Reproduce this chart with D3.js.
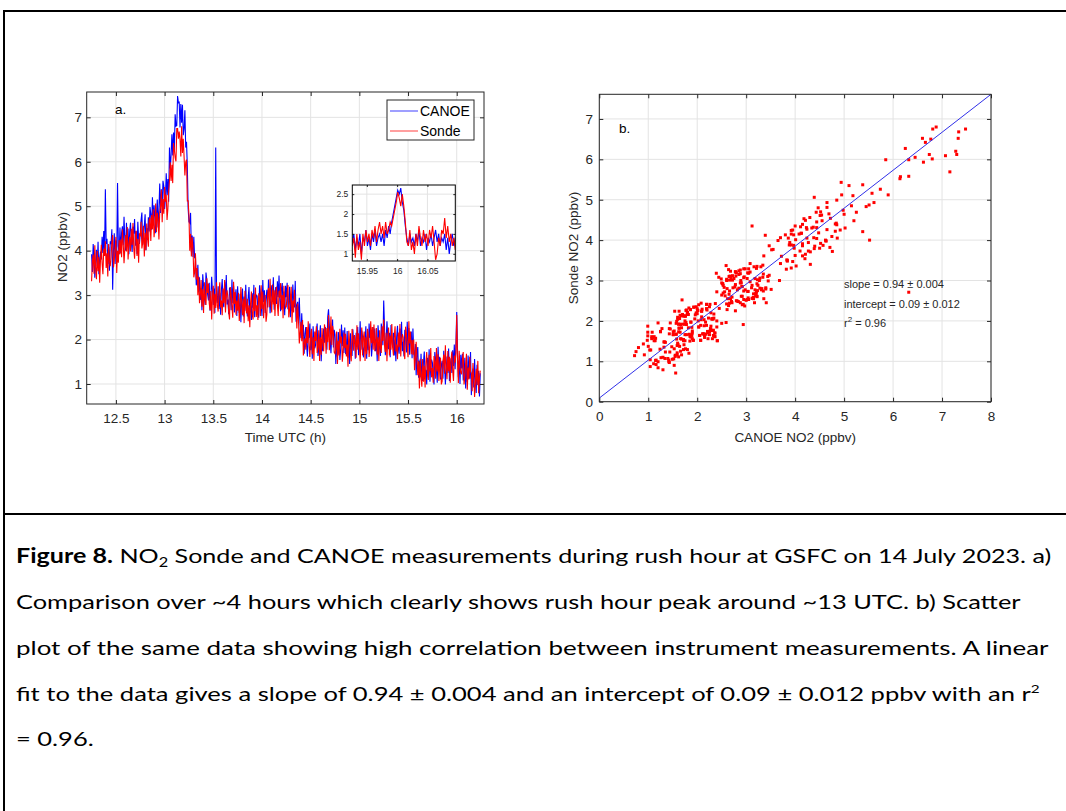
<!DOCTYPE html>
<html><head><meta charset="utf-8">
<script src="https://cdn.jsdelivr.net/npm/d3@7"></script>
<style>body{margin:0;background:#fff} svg{display:block}</style>
</head><body>
<svg id="c" width="1066" height="811"></svg>
<script>
// ---------- DATA ----------
const timeStart = 12.25, timeStep = 1/120; // hours, 30 s sampling
const canoe = [
3.92,3.52,4.15,3.84,3.39,3.72,4.02,3.65,4.20,3.47,3.82,3.98,
3.80,4.31,3.95,4.44,3.88,5.38,4.15,4.27,3.70,4.08,3.55,4.21,
4.15,4.48,3.12,4.00,4.39,3.70,4.23,3.84,5.52,4.10,3.92,4.52,
3.95,4.40,4.55,4.12,4.76,4.24,4.00,4.63,4.18,4.50,3.92,4.44,
4.63,4.21,3.97,4.54,4.38,4.71,4.11,4.44,3.92,4.65,4.27,4.15,
4.37,4.69,4.86,4.13,4.30,4.57,4.82,4.01,4.51,4.24,4.75,4.43,
4.98,4.82,4.47,5.20,4.65,5.02,4.72,4.39,4.84,5.15,4.52,4.92,
5.51,4.85,5.38,5.00,5.57,5.45,4.94,5.18,5.74,5.25,5.61,5.10,
6.32,5.85,6.15,6.62,6.14,6.66,6.25,7.07,6.80,6.81,7.48,7.33,
7.34,6.77,7.30,6.88,7.28,6.60,6.74,7.16,6.32,6.45,5.90,4.95,
4.65,4.62,4.85,3.97,4.34,3.86,4.31,3.83,3.89,3.22,3.36,3.68,
3.08,3.40,2.89,3.16,2.66,3.47,3.22,2.95,2.78,3.51,3.34,3.02,
2.88,3.28,2.65,2.96,3.41,3.08,2.78,3.15,2.60,6.32,2.98,2.82,
3.20,2.69,3.05,2.56,3.12,3.36,2.85,2.73,3.30,2.92,3.45,2.79,
2.90,2.57,3.17,3.05,2.66,3.35,2.82,3.21,2.61,2.95,3.13,2.53,
3.20,2.75,2.60,3.03,2.39,2.91,3.15,2.52,2.97,2.65,3.23,2.71,
2.52,2.94,3.18,2.61,2.77,2.44,3.04,2.71,3.23,2.50,2.88,3.00,
2.98,2.66,2.49,3.22,3.05,2.78,2.53,3.34,2.84,3.11,2.60,2.92,
3.12,2.72,3.35,3.04,2.59,2.92,3.22,2.85,3.40,2.67,3.02,3.18,
2.80,3.31,2.95,3.44,2.88,2.64,3.15,3.27,2.70,3.08,2.55,3.21,
2.95,3.28,2.68,2.80,3.19,2.50,3.03,2.64,3.24,2.90,2.72,3.32,
2.40,2.78,2.85,2.37,2.94,2.34,2.03,2.59,2.08,2.33,1.68,2.14,
2.28,1.86,1.62,2.19,2.03,2.36,1.76,2.09,1.57,2.30,1.92,1.80,
1.87,2.19,2.36,1.63,1.80,2.07,2.32,1.51,2.01,1.74,2.25,1.93,
2.28,2.12,1.77,2.50,2.68,2.32,2.02,1.69,2.14,2.45,1.82,2.22,
2.11,1.45,1.98,1.60,2.17,2.05,1.54,1.78,2.34,1.85,2.21,1.70,
2.27,1.67,1.85,2.19,1.59,1.98,1.45,2.14,1.75,1.63,2.23,1.90,
2.09,1.57,2.15,1.83,2.28,1.65,1.89,2.41,1.77,2.20,2.05,1.60,
1.80,1.92,2.30,1.57,2.09,1.76,2.36,2.03,2.19,1.62,1.86,2.28,
1.93,2.25,1.74,2.01,1.51,2.32,2.07,1.80,1.63,2.36,2.19,1.87,
2.88,2.28,1.65,1.96,2.41,2.08,1.78,2.15,1.60,2.33,1.98,1.82,
2.15,1.64,2.00,1.51,2.07,2.31,1.80,1.68,2.25,1.87,2.40,1.74,
1.95,1.62,2.22,2.10,1.71,2.40,1.87,2.26,1.66,2.00,2.18,1.58,
2.25,1.75,1.53,1.90,1.20,1.66,1.83,1.14,1.53,1.15,1.68,1.11,
1.07,1.49,1.73,1.16,1.32,0.99,1.59,1.26,1.78,1.05,1.43,1.55,
1.48,1.16,0.99,1.72,1.55,1.28,1.03,1.84,1.34,1.61,1.10,1.42,
1.52,1.12,1.75,1.44,0.99,1.32,1.62,1.25,1.80,1.07,1.42,1.58,
1.25,1.76,1.40,1.89,1.33,1.90,2.62,1.72,1.15,1.53,1.00,1.66,
1.35,1.68,1.08,1.20,1.59,0.90,1.43,1.04,1.64,1.30,1.12,1.72,
0.75,1.20,1.35,0.92,1.56,1.04,0.80,1.43,0.98,1.30,0.72,1.24];
const sonde = [
3.31,3.76,3.91,3.48,4.12,3.60,3.36,3.99,3.54,3.86,3.28,3.80,
4.13,3.71,3.47,4.04,3.88,4.21,3.61,3.94,3.42,4.15,3.77,3.65,
3.86,4.18,4.35,3.62,3.79,4.06,4.31,3.50,4.00,3.73,4.24,3.92,
4.25,3.85,4.48,4.17,3.72,4.05,4.35,3.98,4.53,3.80,4.15,4.31,
3.98,4.49,4.13,4.62,4.06,3.82,4.33,4.45,3.88,4.26,3.73,4.39,
4.32,4.65,4.05,4.17,4.56,3.87,4.40,4.01,4.61,4.27,4.09,4.69,
4.74,4.22,4.80,4.48,4.93,4.30,4.54,5.06,4.42,4.85,4.70,4.25,
4.87,4.99,5.37,4.64,5.16,4.83,5.43,5.10,5.26,4.69,4.93,5.35,
5.58,5.99,5.57,5.93,5.52,6.42,6.27,6.09,6.01,6.75,6.75,6.52,
6.68,6.50,6.12,6.80,6.20,6.52,6.12,5.69,5.99,6.05,5.12,5.12,
4.81,4.00,4.38,3.87,4.30,4.05,3.40,3.51,3.94,3.35,3.61,3.00,
3.42,2.82,3.00,3.34,2.74,3.13,2.60,3.29,2.90,2.78,3.38,3.05,
3.26,2.81,2.66,3.09,2.45,2.97,3.21,2.58,3.03,2.71,3.29,2.77,
2.63,3.05,3.29,2.72,2.88,2.55,3.15,2.82,3.34,2.61,2.99,3.11,
2.94,2.62,2.45,3.18,3.01,2.74,2.49,3.30,2.80,3.07,2.56,2.88,
2.65,3.05,2.42,2.73,3.18,2.85,2.55,2.92,2.37,3.10,2.75,2.59,
2.92,2.41,2.77,2.28,2.84,3.08,2.57,2.45,3.02,2.64,3.17,2.51,
2.77,2.44,3.04,2.92,2.53,3.22,2.69,3.08,2.48,2.82,3.00,2.40,
2.56,3.01,3.16,2.73,3.37,2.85,2.61,3.24,2.79,3.11,2.53,3.05,
3.19,2.77,2.53,3.10,2.94,3.27,2.67,3.00,2.48,3.21,2.83,2.71,
2.74,3.06,3.23,2.50,2.67,2.94,3.19,2.38,2.88,2.61,3.12,2.80,
2.72,2.25,2.81,2.43,1.91,2.17,2.40,1.96,2.44,1.64,1.92,2.03,
1.77,2.28,1.92,2.41,1.85,1.61,2.12,2.24,1.67,2.05,1.52,2.18,
1.97,2.30,1.70,1.82,2.21,1.52,2.05,1.66,2.26,1.92,1.74,2.34,
2.20,1.68,2.26,1.94,2.55,1.76,2.00,2.52,1.88,2.31,2.16,1.71,
1.68,1.80,2.18,1.45,1.97,1.64,2.24,1.91,2.07,1.50,1.74,2.16,
1.81,2.13,1.62,1.89,1.39,2.20,1.95,1.68,1.51,2.24,2.07,1.75,
2.10,1.94,1.59,2.32,1.77,2.14,1.84,1.51,1.96,2.27,1.64,2.04,
2.18,1.52,2.05,1.67,2.24,2.12,1.61,1.85,2.41,1.92,2.28,1.77,
2.34,1.74,1.92,2.26,1.66,2.05,1.52,2.21,1.82,1.70,2.30,1.97,
2.45,1.87,1.72,2.15,1.51,2.03,2.27,1.64,2.09,1.77,2.35,1.83,
1.64,2.06,2.30,1.73,1.89,1.56,2.16,1.83,2.35,1.62,2.00,2.12,
2.05,1.73,1.56,2.29,2.12,1.85,1.60,2.41,1.91,2.18,1.67,1.99,
1.66,2.00,1.31,1.56,1.95,1.56,1.20,1.51,0.90,1.57,1.16,0.94,
1.56,1.05,1.41,0.92,1.48,1.72,1.21,1.09,1.66,1.28,1.81,1.15,
1.36,1.03,1.63,1.51,1.12,1.81,1.28,1.67,1.07,1.41,1.59,0.99,
1.06,1.51,1.66,1.23,1.87,1.35,1.11,1.74,1.29,1.61,1.03,1.55,
1.73,1.31,1.07,1.64,1.48,1.70,2.55,1.54,1.02,1.75,1.37,1.25,
1.23,1.55,1.72,0.99,1.16,1.43,1.68,0.87,1.37,1.10,1.61,1.29,
1.24,0.84,1.47,1.16,0.71,1.04,1.34,0.97,1.52,0.79,1.14,1.30];
const insetStart = 15.926, insetStep = 0.0025;
const canoeInset = [
1.3,1.5,1.1,1.4,1.2,1.5,1.0,1.4,1.3,1.6,
1.2,1.4,1.1,1.5,1.3,1.6,1.2,1.4,1.5,1.3,
1.5,1.2,1.6,1.4,1.7,1.5,1.8,2.0,2.2,2.4,
2.6,2.5,2.65,2.3,2.1,1.7,1.4,1.2,1.5,1.3,
1.4,1.2,1.5,1.3,1.6,1.2,1.4,1.3,1.5,1.1,
1.4,1.3,1.5,1.2,1.4,1.6,1.3,1.5,1.2,1.4,
1.3,1.5,1.1,1.4,1.0,1.3,1.5,1.2,1.4,1.3];
const sondeInset = [
1.2,1.4,0.9,1.5,1.1,1.3,0.85,1.5,1.2,1.6,
1.3,1.5,1.2,1.6,1.4,1.7,1.3,1.6,1.8,1.5,
1.7,1.4,1.8,1.5,1.6,1.8,1.7,1.9,2.1,2.3,
2.55,2.4,2.2,2.5,2.2,1.8,1.3,1.2,1.6,1.1,
1.3,1.0,1.5,1.2,1.7,1.4,1.2,1.6,1.3,1.5,
1.2,1.6,1.4,1.7,1.3,0.85,1.0,1.4,1.2,1.6,
1.5,1.9,1.4,1.7,1.3,1.5,1.2,1.4,1.1,1.5];
const timeTicks = [12.5,13,13.5,14,14.5,15,15.5,16];
const no2Ticks = [1,2,3,4,5,6,7];
const insetTimeTicks = [15.95,16,16.05];
const insetNo2Ticks = [1,1.5,2,2.5];
const scatterXTicks = [0,1,2,3,4,5,6,7,8];
const scatterYTicks = [0,1,2,3,4,5,6,7];
const seriesNames = ["CANOE","Sonde"];
const fitSlope = 0.94, fitIntercept = 0.09;
const fitLabels = ["slope = 0.94 ± 0.004","intercept = 0.09 ± 0.012","r|2| = 0.96"];

// ---------- DRAW ----------
const svg = d3.select("#c");
const FONT = "'Liberation Sans', Arial, Helvetica, sans-serif";
const AX = "#262626", GRID = "#e3e3e3";
const BLUE = "#0000ff", RED = "#ff0000";

// outer frame
svg.append("path").attr("d","M4,811 V11 H1066").attr("fill","none").attr("stroke","#000").attr("stroke-width",2);
svg.append("line").attr("x1",4).attr("x2",1066).attr("y1",514).attr("y2",514).attr("stroke","#000").attr("stroke-width",2);

function drawFrame(g, x, y, xt, yt) {
  const [x0,x1] = x.range(), [y0,y1] = y.range();
  const grid = g.append("g");
  grid.selectAll(".gx").data(xt).join("line").attr("x1",d=>x(d)).attr("x2",d=>x(d)).attr("y1",y0).attr("y2",y1).attr("stroke",GRID).attr("stroke-width",1);
  grid.selectAll(".gy").data(yt).join("line").attr("y1",d=>y(d)).attr("y2",d=>y(d)).attr("x1",x0).attr("x2",x1).attr("stroke",GRID).attr("stroke-width",1);
}
function drawAxes(g, x, y, xt, yt, o) {
  const [x0,x1] = x.range(), [y0,y1] = y.range();
  const fmt = d => String(d);
  const ts = o.tick;
  const style = sel => { sel.select(".domain").remove(); sel.selectAll("line").attr("stroke",AX); sel.selectAll("text").attr("fill",AX).style("font-family",FONT).style("font-size",o.fs+"px"); };
  g.append("g").attr("transform",`translate(0,${y0})`).call(d3.axisBottom(x).tickValues(xt).tickSize(-ts).tickSizeOuter(0).tickPadding(o.xpad).tickFormat(fmt)).call(style);
  g.append("g").attr("transform",`translate(0,${y1})`).call(d3.axisTop(x).tickValues(xt).tickSize(-ts).tickSizeOuter(0).tickFormat("")).call(style);
  g.append("g").attr("transform",`translate(${x0},0)`).call(d3.axisLeft(y).tickValues(yt).tickSize(-ts).tickSizeOuter(0).tickPadding(o.ypad).tickFormat(fmt)).call(style);
  g.append("g").attr("transform",`translate(${x1},0)`).call(d3.axisRight(y).tickValues(yt).tickSize(-ts).tickSizeOuter(0).tickFormat("")).call(style);
  g.append("rect").attr("x",x0).attr("y",y1).attr("width",x1-x0).attr("height",y0-y1).attr("fill","none").attr("stroke",o.box||AX).attr("stroke-width",1);
}

// ----- Panel a -----
const ga = svg.append("g");
const xa = d3.scaleLinear().domain([12.2,16.28]).range([86.7,484]);
const ya = d3.scaleLinear().domain([0.55,7.57]).range([404,92]);
drawFrame(ga, xa, ya, timeTicks, no2Ticks);
svg.append("clipPath").attr("id","clipA").append("rect").attr("x",86.7).attr("y",92).attr("width",484-86.7).attr("height",404-92);
const lineA = d3.line().x((d,i)=>xa(timeStart+i*timeStep)).y(d=>ya(d));
const da = ga.append("g").attr("clip-path","url(#clipA)");
da.append("path").attr("d",lineA(canoe)).attr("fill","none").attr("stroke",BLUE).attr("stroke-width",1.1);
da.append("path").attr("d",lineA(sonde)).attr("fill","none").attr("stroke",RED).attr("stroke-width",1.1);
drawAxes(ga, xa, ya, timeTicks, no2Ticks, {tick:4, xpad:9.5, ypad:4.7, fs:13.5});
ga.append("text").attr("x",115).attr("y",114).text("a.").style("font-family",FONT).style("font-size","13.5px").attr("fill","#000");
ga.append("text").attr("x",(86.7+484)/2).attr("y",442).attr("text-anchor","middle").text("Time UTC (h)").style("font-family",FONT).style("font-size","13.5px").attr("fill",AX);
ga.append("text").attr("transform","translate(67,247) rotate(-90)").attr("text-anchor","middle").text("NO2 (ppbv)").style("font-family",FONT).style("font-size","13.5px").attr("fill",AX);

// legend
const lg = ga.append("g");
lg.append("rect").attr("x",387).attr("y",100).attr("width",87).attr("height",40).attr("fill","#fff").attr("stroke",AX).attr("stroke-width",1);
const legColors = [BLUE, RED];
seriesNames.forEach((n,i)=>{
  const yy = 111 + i*20;
  lg.append("line").attr("x1",390).attr("x2",418).attr("y1",yy).attr("y2",yy).attr("stroke",legColors[i]).attr("stroke-width",1).attr("opacity",0.75);
  lg.append("text").attr("x",420).attr("y",yy+5).text(n).style("font-family",FONT).style("font-size","14px").attr("fill","#000");
});

// inset
const gi = svg.append("g");
const xi = d3.scaleLinear().domain([15.926,16.096]).range([352.3,455.3]);
const yi = d3.scaleLinear().domain([0.82,2.73]).range([261,185]);
gi.append("rect").attr("x",352.3).attr("y",185).attr("width",103).attr("height",76).attr("fill","#fff");
drawFrame(gi, xi, yi, insetTimeTicks, insetNo2Ticks);
svg.append("clipPath").attr("id","clipI").append("rect").attr("x",352.3).attr("y",185).attr("width",103).attr("height",76);
const lineI = d3.line().x((d,i)=>xi(insetStart+i*insetStep)).y(d=>yi(d));
const di = gi.append("g").attr("clip-path","url(#clipI)");
di.append("path").attr("d",lineI(canoeInset)).attr("fill","none").attr("stroke",BLUE).attr("stroke-width",1.1);
di.append("path").attr("d",lineI(sondeInset)).attr("fill","none").attr("stroke",RED).attr("stroke-width",1.1);
drawAxes(gi, xi, yi, insetTimeTicks, insetNo2Ticks, {tick:2, xpad:7, ypad:4, fs:8.5, box:"#000"});

// ----- Panel b -----
const gb = svg.append("g");
const xb = d3.scaleLinear().domain([0,8]).range([599.3,991]);
const yb = d3.scaleLinear().domain([0,7.61]).range([401.7,94.3]);
drawFrame(gb, xb, yb, scatterXTicks, scatterYTicks);
svg.append("clipPath").attr("id","clipB").append("rect").attr("x",599.3).attr("y",94.3).attr("width",991-599.3).attr("height",401.7-94.3);
const pairs = d3.zip(canoe, sonde);
const db = gb.append("g").attr("clip-path","url(#clipB)");
db.selectAll("rect.pt").data(pairs).join("rect").attr("class","pt")
  .attr("x",d=>xb(d[0])-1.5).attr("y",d=>yb(d[1])-1.5).attr("width",3).attr("height",3).attr("fill",RED);
db.append("line").attr("x1",xb(0)).attr("y1",yb(fitIntercept)).attr("x2",xb(8)).attr("y2",yb(fitIntercept+fitSlope*8))
  .attr("stroke","#3030e8").attr("stroke-width",1);
drawAxes(gb, xb, yb, scatterXTicks, scatterYTicks, {tick:4, xpad:9.5, ypad:6.3, fs:13.5});
gb.append("text").attr("x",619).attr("y",133).text("b.").style("font-family",FONT).style("font-size","13.5px").attr("fill","#000");
gb.append("text").attr("x",(599.3+991)/2).attr("y",442).attr("text-anchor","middle").text("CANOE NO2 (ppbv)").style("font-family",FONT).style("font-size","13.5px").attr("fill",AX);
gb.append("text").attr("transform","translate(578,248) rotate(-90)").attr("text-anchor","middle").text("Sonde NO2 (ppbv)").style("font-family",FONT).style("font-size","13.5px").attr("fill",AX);
fitLabels.forEach((s,i)=>{
  const t = gb.append("text").attr("x",844).attr("y",288+i*19.5).style("font-family",FONT).style("font-size","11px").attr("fill",AX);
  const parts = s.split("|");
  t.append("tspan").text(parts[0]);
  if (parts.length>1) {
    t.append("tspan").attr("dy",-5).style("font-size","8px").text(parts[1]);
    t.append("tspan").attr("dy",5).text(parts[2]);
  }
});

// ----- Caption -----
const CF = "Lato, 'Open Sans', sans-serif";
const capLines = [
  {y:563, w:1036, parts:[{t:"Figure 8.",b:1},{t:" NO"},{t:"2",sub:1},{t:" Sonde and CANOE measurements during rush hour at GSFC on 14 July 2023. a)",after:1}]},
  {y:609, w:1006, parts:[{t:"Comparison over ~4 hours which clearly shows rush hour peak around ~13 UTC. b) Scatter"}]},
  {y:655, w:1034, parts:[{t:"plot of the same data showing high correlation between instrument measurements. A linear"}]},
  {y:701, w:1024, parts:[{t:"fit to the data gives a slope of 0.94 ± 0.004 and an intercept of 0.09 ± 0.012 ppbv with an r"},{t:"2",sup:1}]},
  {y:746, w:null, parts:[{t:"= 0.96."}]}
];
const capNodes = capLines.map(L=>{
  const t = svg.append("text").attr("x",0).attr("y",0).style("font-family",CF).style("font-size","20px").attr("fill","#000");
  L.parts.forEach(p=>{
    const s = t.append("tspan").text(p.t);
    if (p.b) s.style("font-weight","bold");
    if (p.sub) s.attr("dy",4).style("font-size","13px");
    if (p.after) s.attr("dy",-4);
    if (p.sup) s.attr("dy",-8).style("font-size","12px");
  });
  return t;
});
const scales = [];
capNodes.forEach((t,i)=>{ if (capLines[i].w) scales.push(capLines[i].w / t.node().getBBox().width); });
const avgScale = d3.mean(scales);
capNodes.forEach((t,i)=>{
  const L = capLines[i];
  const s = L.w ? L.w / t.node().getBBox().width : avgScale;
  t.attr("transform",`translate(16,${L.y}) scale(${s},1)`);
});
</script>
</body></html>
